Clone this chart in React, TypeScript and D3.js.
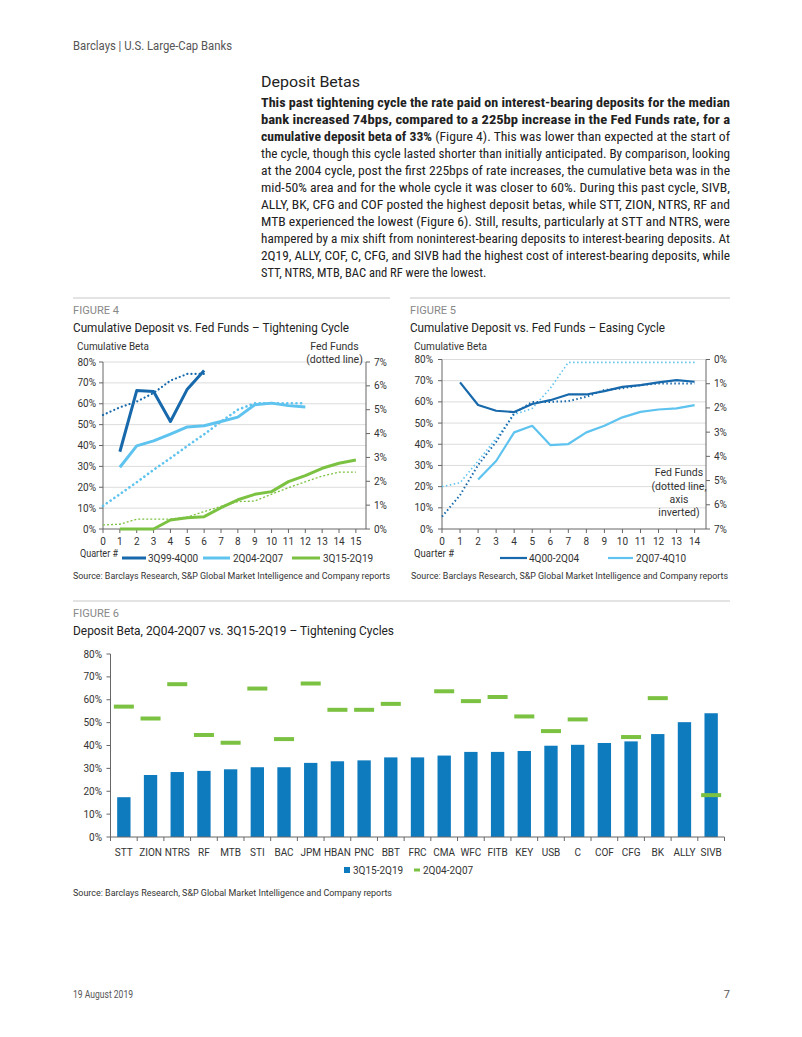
import React from "react";
import * as d3 from "d3";

const FONT = "'Liberation Sans Narrow', 'Arial Narrow', 'Roboto Condensed', Roboto, sans-serif";
const UI = "Roboto, 'Noto Sans', 'Liberation Sans', sans-serif";

// ---------- Figure 4 data (tightening) ----------
const fig4Ticks = d3.range(0, 16);
const tightBeta9900 = [0.37, 0.663, 0.659, 0.515, 0.67, 0.759]; // quarters 1-6
const tightBeta0407 = [0.296, 0.398, 0.422, 0.454, 0.489, 0.495, 0.515, 0.536, 0.595, 0.603, 0.591, 0.585]; // q1-12
const tightBeta1519 = [0, 0, 0, 0.043, 0.054, 0.059, 0.102, 0.14, 0.166, 0.179, 0.227, 0.256, 0.291, 0.315, 0.331]; // q1-15
const tightFF9900 = [4.78, 5.1, 5.34, 5.7, 6.22, 6.5, 6.5]; // q0-6
const tightFF0407 = [0.97, 1.46, 1.96, 2.48, 2.97, 3.48, 3.97, 4.5, 5.0, 5.27, 5.27, 5.27, 5.27]; // q0-12
const tightFF1519 = [0.17, 0.2, 0.41, 0.41, 0.41, 0.5, 0.73, 0.95, 1.15, 1.17, 1.46, 1.73, 1.98, 2.22, 2.38, 2.38]; // q0-15

// ---------- Figure 5 data (easing) ----------
const fig5Ticks = d3.range(0, 15);
const easeBeta0004 = [0.692, 0.585, 0.558, 0.552, 0.59, 0.608, 0.635, 0.635, 0.651, 0.671, 0.679, 0.692, 0.703, 0.695]; // q1-14
const easeBeta0710 = [0.234, 0.321, 0.456, 0.487, 0.396, 0.401, 0.456, 0.487, 0.527, 0.553, 0.564, 0.569, 0.585]; // q2-14
const easeFF0004 = [6.49, 5.6, 4.36, 3.4, 2.22, 1.75, 1.75, 1.72, 1.54, 1.26, 1.19, 1.06, 0.99, 0.99, 0.99]; // q0-14
const easeFF0710 = [5.25, 5.09, 4.19, 3.26, 2.27, 2.02, 1.19, 0.12, 0.12, 0.12, 0.12, 0.12, 0.12, 0.12, 0.12]; // q0-14

// ---------- Figure 6 data ----------
const banks = ["STT", "ZION", "NTRS", "RF", "MTB", "STI", "BAC", "JPM", "HBAN", "PNC", "BBT", "FRC", "CMA", "WFC", "FITB", "KEY", "USB", "C", "COF", "CFG", "BK", "ALLY", "SIVB"];
const beta1519 = [0.174, 0.271, 0.284, 0.289, 0.296, 0.305, 0.305, 0.324, 0.331, 0.335, 0.348, 0.348, 0.356, 0.372, 0.372, 0.376, 0.399, 0.403, 0.411, 0.418, 0.45, 0.502, 0.541];
const beta0407: (number | null)[] = [0.57, 0.518, 0.668, 0.446, 0.412, 0.649, 0.428, 0.671, 0.556, 0.556, 0.582, null, 0.637, 0.594, 0.612, 0.527, 0.463, 0.514, null, 0.437, 0.607, null, 0.183];

const pctTicks = d3.range(0, 0.81, 0.1);
const ffTicks = d3.range(0, 8);

const C_DARK = "#1769ab";
const C_LIGHT = "#5ec3ef";
const C_GREEN = "#7cc242";
const C_BAR = "#0f7bbf";
const C_AXIS = "#666";
const C_GRID = "#dcdcdc";
const C_TEXT = "#333";

const paraLines: { bold?: string; normal?: string; justify: boolean }[] = [
  { bold: "This past tightening cycle the rate paid on interest-bearing deposits for the median", justify: true },
  { bold: "bank increased 74bps, compared to a 225bp increase in the Fed Funds rate, for a", justify: true },
  { bold: "cumulative deposit beta of 33%", normal: " (Figure 4).  This was lower than expected at the start of", justify: true },
  { normal: "the cycle, though this cycle lasted shorter than initially anticipated.  By comparison, looking", justify: true },
  { normal: "at the 2004 cycle, post the first 225bps of rate increases, the cumulative beta was in the", justify: true },
  { normal: "mid-50% area and for the whole cycle it was closer to 60%.  During this past cycle, SIVB,", justify: true },
  { normal: "ALLY, BK, CFG and COF posted the highest deposit betas, while STT, ZION, NTRS, RF and", justify: true },
  { normal: "MTB experienced the lowest (Figure 6).  Still, results, particularly at STT and NTRS, were", justify: true },
  { normal: "hampered by a mix shift from noninterest-bearing deposits to interest-bearing deposits.  At", justify: true },
  { normal: "2Q19, ALLY, COF, C, CFG, and SIVB had the highest cost of interest-bearing deposits, while", justify: true },
  { normal: "STT, NTRS, MTB, BAC and RF were the lowest.", justify: false },
];

const fmtPct = (v: number) => `${Math.round(v * 100)}%`;
const fit = (w: number) => ({ textLength: w, lengthAdjust: "spacingAndGlyphs" });

function Fig4() {
  const x = d3.scaleLinear().domain([0, 15.6]).range([103, 366]);
  const yL = d3.scaleLinear().domain([0, 0.8]).range([529, 362]);
  const yR = d3.scaleLinear().domain([0, 7]).range([529, 362]);
  const lineL = (start: number) =>
    d3.line<number>().x((_, i) => x(i + start)).y((d) => yL(d));
  const lineR = d3.line<number>().x((_, i) => x(i)).y((d) => yR(d));
  return (
    <g fontFamily={UI}>
      {pctTicks.slice(1).map((t) => (
        <line key={t} x1={x(0)} x2={x(15.6)} y1={yL(t)} y2={yL(t)} stroke={C_GRID} strokeWidth={1} />
      ))}
      <line x1={x(0)} x2={x(0)} y1={yL(0)} y2={yL(0.8)} stroke={C_AXIS} />
      {pctTicks.map((t) => (
        <g key={t}>
          <line x1={x(0) - 4} x2={x(0)} y1={yL(t)} y2={yL(t)} stroke={C_AXIS} />
          <text x={96} y={yL(t) + 3.5} textAnchor="end" fontSize={10} fill={C_TEXT}>{fmtPct(t)}</text>
        </g>
      ))}
      <line x1={366} x2={366} y1={yR(0)} y2={yR(7)} stroke={C_AXIS} />
      {ffTicks.map((t) => (
        <g key={t}>
          <line x1={366} x2={370} y1={yR(t)} y2={yR(t)} stroke={C_AXIS} />
          <text x={374} y={yR(t) + 3.5} fontSize={10} fill={C_TEXT}>{`${t}%`}</text>
        </g>
      ))}
      <line x1={x(0)} x2={366} y1={yL(0)} y2={yL(0)} stroke={C_AXIS} />
      {fig4Ticks.map((t) => (
        <g key={t}>
          <line x1={x(t)} x2={x(t)} y1={yL(0)} y2={yL(0) + 4} stroke={C_AXIS} />
          <text x={x(t)} y={545} textAnchor="middle" fontSize={10} fill={C_TEXT}>{t}</text>
        </g>
      ))}
      <path d={lineR(tightFF9900) || ""} fill="none" stroke={C_DARK} strokeWidth={2.2} strokeDasharray="0.1 4" strokeLinecap="round" />
      <path d={lineR(tightFF0407) || ""} fill="none" stroke={C_LIGHT} strokeWidth={2.6} strokeDasharray="0.1 4.5" strokeLinecap="round" />
      <path d={lineR(tightFF1519) || ""} fill="none" stroke={C_GREEN} strokeWidth={1.3} strokeDasharray="2 2" />
      <path d={lineL(1)(tightBeta1519) || ""} fill="none" stroke={C_GREEN} strokeWidth={3} strokeLinejoin="round" />
      <path d={lineL(1)(tightBeta0407) || ""} fill="none" stroke={C_LIGHT} strokeWidth={3} strokeLinejoin="round" />
      <path d={lineL(1)(tightBeta9900) || ""} fill="none" stroke={C_DARK} strokeWidth={3} strokeLinejoin="round" />
      <text x={77} y={349.5} fontSize={10.5} fill={C_TEXT} {...fit(72)}>Cumulative Beta</text>
      <text x={334.5} y={349.5} fontSize={10.5} fill={C_TEXT} textAnchor="middle">Fed Funds</text>
      <text x={334.5} y={363} fontSize={10.5} fill={C_TEXT} textAnchor="middle">(dotted line)</text>
      <text x={80} y={556.5} fontSize={10.5} fill={C_TEXT} {...fit(38)}>Quarter #</text>
      <line x1={122} x2={146} y1={558} y2={558} stroke={C_DARK} strokeWidth={3} />
      <text x={148} y={562} fontSize={10} fill={C_TEXT}>3Q99-4Q00</text>
      <line x1={203} x2={230} y1={558} y2={558} stroke={C_LIGHT} strokeWidth={3} />
      <text x={233} y={562} fontSize={10} fill={C_TEXT}>2Q04-2Q07</text>
      <line x1={292} x2={320} y1={558} y2={558} stroke={C_GREEN} strokeWidth={3} />
      <text x={323} y={562} fontSize={10} fill={C_TEXT}>3Q15-2Q19</text>
    </g>
  );
}

function Fig5() {
  const x = d3.scaleLinear().domain([0, 14.63]).range([442, 706]);
  const yL = d3.scaleLinear().domain([0, 0.8]).range([529, 359.5]);
  const yR = d3.scaleLinear().domain([0, 7]).range([359.5, 529]);
  const lineL = (start: number) =>
    d3.line<number>().x((_, i) => x(i + start)).y((d) => yL(d));
  const lineR = d3.line<number>().x((_, i) => x(i)).y((d) => yR(d));
  return (
    <g fontFamily={UI}>
      {pctTicks.slice(1).map((t) => (
        <line key={t} x1={x(0)} x2={706} y1={yL(t)} y2={yL(t)} stroke={C_GRID} strokeWidth={1} />
      ))}
      <line x1={x(0)} x2={x(0)} y1={yL(0)} y2={yL(0.8)} stroke={C_AXIS} />
      {pctTicks.map((t) => (
        <g key={t}>
          <line x1={x(0) - 4} x2={x(0)} y1={yL(t)} y2={yL(t)} stroke={C_AXIS} />
          <text x={433} y={yL(t) + 3.5} textAnchor="end" fontSize={10} fill={C_TEXT}>{fmtPct(t)}</text>
        </g>
      ))}
      <line x1={706} x2={706} y1={yR(0)} y2={yR(7)} stroke={C_AXIS} />
      {ffTicks.map((t) => (
        <g key={t}>
          <line x1={706} x2={710} y1={yR(t)} y2={yR(t)} stroke={C_AXIS} />
          <text x={714} y={yR(t) + 3.5} fontSize={10} fill={C_TEXT}>{`${t}%`}</text>
        </g>
      ))}
      <line x1={x(0)} x2={706} y1={yL(0)} y2={yL(0)} stroke={C_AXIS} />
      {fig5Ticks.map((t) => (
        <g key={t}>
          <line x1={x(t)} x2={x(t)} y1={yL(0)} y2={yL(0) + 4} stroke={C_AXIS} />
          <text x={x(t)} y={545} textAnchor="middle" fontSize={10} fill={C_TEXT}>{t}</text>
        </g>
      ))}
      <path d={lineR(easeFF0710) || ""} fill="none" stroke={C_LIGHT} strokeWidth={1.6} strokeDasharray="1.5 2.5" />
      <path d={lineR(easeFF0004) || ""} fill="none" stroke={C_DARK} strokeWidth={2} strokeDasharray="1.5 2.5" />
      <path d={lineL(2)(easeBeta0710) || ""} fill="none" stroke={C_LIGHT} strokeWidth={2.2} strokeLinejoin="round" />
      <path d={lineL(1)(easeBeta0004) || ""} fill="none" stroke={C_DARK} strokeWidth={2.2} strokeLinejoin="round" />
      <text x={414} y={349.5} fontSize={10.5} fill={C_TEXT} {...fit(73)}>Cumulative Beta</text>
      <g fontSize={10.5} fill={C_TEXT} textAnchor="middle">
        <text x={679} y={476}>Fed Funds</text>
        <text x={679} y={489.5}>(dotted line,</text>
        <text x={679} y={502.5}>axis</text>
        <text x={679} y={515.5}>inverted)</text>
      </g>
      <text x={414} y={556.5} fontSize={10.5} fill={C_TEXT} {...fit(40)}>Quarter #</text>
      <line x1={500} x2={527} y1={558} y2={558} stroke={C_DARK} strokeWidth={2.2} />
      <text x={529} y={562} fontSize={10} fill={C_TEXT}>4Q00-2Q04</text>
      <line x1={608} x2={633} y1={558} y2={558} stroke={C_LIGHT} strokeWidth={2.2} />
      <text x={636} y={562} fontSize={10} fill={C_TEXT}>2Q07-4Q10</text>
    </g>
  );
}

function Fig6() {
  const band = d3.scaleBand<string>().domain(banks).range([110.5, 724.5]);
  const y = d3.scaleLinear().domain([0, 0.8]).range([837, 654]);
  const step = band.step();
  const markW = step * 0.75;
  return (
    <g fontFamily={UI}>
      <line x1={110.5} x2={110.5} y1={y(0)} y2={y(0.8)} stroke={C_AXIS} />
      {pctTicks.map((t) => (
        <g key={t}>
          <line x1={106.5} x2={110.5} y1={y(t)} y2={y(t)} stroke={C_AXIS} />
          <text x={102} y={y(t) + 3.5} textAnchor="end" fontSize={10} fill={C_TEXT}>{fmtPct(t)}</text>
        </g>
      ))}
      {banks.map((b, i) => {
        const cx = (band(b) as number) + step / 2;
        const bw = step * 0.5;
        return (
          <g key={b}>
            <rect x={cx - bw / 2} y={y(beta1519[i])} width={bw} height={y(0) - y(beta1519[i])} fill={C_BAR} />
            {beta0407[i] !== null && (
              <rect x={cx - markW / 2} y={y(beta0407[i] as number) - 2} width={markW} height={4} fill={C_GREEN} />
            )}
            <text x={cx} y={856} textAnchor="middle" fontSize={10} fill={C_TEXT}>{b}</text>
          </g>
        );
      })}
      <line x1={110.5} x2={724.5} y1={y(0)} y2={y(0)} stroke={C_AXIS} />
      {d3.range(banks.length + 1).map((i) => (
        <line key={i} x1={110.5 + i * step} x2={110.5 + i * step} y1={y(0)} y2={y(0) + 4} stroke={C_AXIS} />
      ))}
      <rect x={344} y={867} width={6} height={6} fill={C_BAR} />
      <text x={353} y={874} fontSize={10} fill={C_TEXT}>3Q15-2Q19</text>
      <rect x={414} y={868.5} width={6} height={3} fill={C_GREEN} />
      <text x={423} y={874} fontSize={10} fill={C_TEXT}>2Q04-2Q07</text>
    </g>
  );
}

export default function App() {
  return (
    <svg width={802} height={1037} style={{ position: "absolute", left: 0, top: 0, background: "#fff" }} fontFamily={UI}>
      <rect x={0} y={0} width={802} height={1037} fill="#fff" />
      <text x={73} y={50} fontSize={12} fill="#555" {...fit(159)}>Barclays | U.S. Large-Cap Banks</text>

      <text x={261} y={87} fontSize={14.5} fill="#222" {...fit(99)}>Deposit Betas</text>
      {paraLines.map((l, i) => (
        <text
          key={i}
          x={261}
          y={107 + i * 17}
          fontSize={12.5}
          fill="#222"
          fontFamily={FONT}
          {...(l.justify ? fit(469) : {})}
        >
          {l.bold && <tspan fontWeight="bold">{l.bold}</tspan>}
          {l.normal && <tspan>{l.normal}</tspan>}
        </text>
      ))}

      <line x1={73} x2={390} y1={298} y2={298} stroke="#c8c8c8" />
      <line x1={410} x2={730} y1={298} y2={298} stroke="#c8c8c8" />
      <text x={73} y={314} fontSize={11} fill="#888" {...fit(46)}>FIGURE 4</text>
      <text x={73} y={332} fontSize={12} fill="#222" {...fit(276)}>Cumulative Deposit vs. Fed Funds – Tightening Cycle</text>
      <text x={410} y={314} fontSize={11} fill="#888" {...fit(46)}>FIGURE 5</text>
      <text x={410} y={332} fontSize={12} fill="#222" {...fit(255)}>Cumulative Deposit vs. Fed Funds – Easing Cycle</text>

      <Fig4 />
      <Fig5 />

      <text x={73} y={579} fontSize={9} fill="#333" {...fit(317)}>Source: Barclays Research, S&amp;P Global Market Intelligence and Company reports</text>
      <text x={411} y={579} fontSize={9} fill="#333" {...fit(317)}>Source: Barclays Research, S&amp;P Global Market Intelligence and Company reports</text>

      <line x1={73} x2={730} y1={601} y2={601} stroke="#c8c8c8" />
      <text x={73} y={617} fontSize={11} fill="#888" {...fit(46)}>FIGURE 6</text>
      <text x={73} y={635} fontSize={12} fill="#222" {...fit(321)}>Deposit Beta, 2Q04-2Q07 vs. 3Q15-2Q19 – Tightening Cycles</text>

      <Fig6 />

      <text x={73} y={896} fontSize={9} fill="#333" {...fit(319)}>Source:  Barclays Research, S&amp;P Global Market Intelligence and Company reports</text>

      <text x={73} y={998} fontSize={11} fill="#555" {...fit(60)}>19 August 2019</text>
      <text x={730} y={998} fontSize={11} fill="#555" textAnchor="end">7</text>
    </svg>
  );
}
